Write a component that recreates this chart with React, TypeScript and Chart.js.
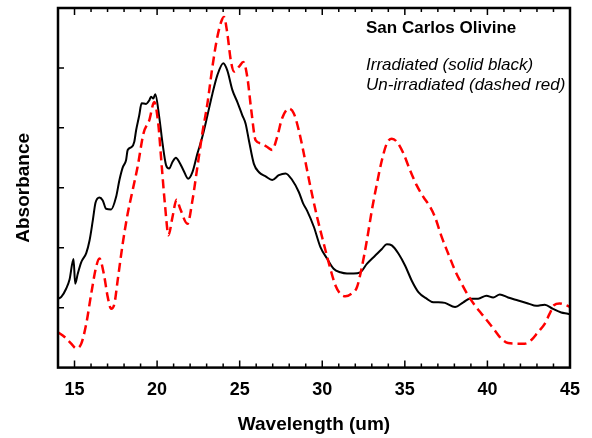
import React, { useEffect, useRef } from "react";
import { Chart, registerables } from "chart.js";

Chart.register(...registerables);

// Irradiated (solid black)
const irrX = [14.0,14.2,14.5,14.7,14.94,15.04,15.2,15.41,15.71,15.91,16.11,16.27,16.51,16.71,16.91,17.22,17.52,17.72,17.92,18.12,18.22,18.46,18.62,18.73,18.92,19.06,19.33,19.53,19.63,19.77,19.89,20.13,20.33,20.54,20.73,20.93,21.14,21.34,21.6,21.88,22.14,22.44,22.74,23.05,23.35,23.65,24.01,24.25,24.56,24.86,25.16,25.36,25.56,25.86,26.17,26.57,26.97,27.37,27.78,28.18,28.58,28.84,29.08,29.49,29.89,30.29,30.69,31.10,31.50,31.90,32.30,32.70,33.21,33.61,33.91,34.21,34.62,35.02,35.42,35.82,36.32,36.73,37.03,37.43,38.04,38.54,38.94,39.44,39.94,40.35,40.75,41.25,41.86,42.46,42.96,43.47,43.97,44.47,44.87,45.0];
const irrY = [1.15,1.18,1.32,1.47,1.81,1.40,1.57,1.76,1.91,2.12,2.46,2.75,2.84,2.79,2.65,2.64,2.85,3.13,3.34,3.46,3.63,3.68,3.77,3.96,4.21,4.41,4.40,4.46,4.52,4.49,4.56,4.18,3.74,3.38,3.32,3.43,3.50,3.43,3.29,3.15,3.26,3.57,3.85,4.21,4.57,4.88,5.08,4.96,4.63,4.43,4.21,4.07,3.79,3.40,3.26,3.19,3.13,3.21,3.24,3.13,2.93,2.74,2.62,2.35,2.01,1.82,1.65,1.59,1.57,1.57,1.59,1.73,1.87,1.98,2.06,2.04,1.90,1.70,1.45,1.26,1.15,1.09,1.09,1.08,1.01,1.09,1.15,1.15,1.20,1.17,1.22,1.17,1.12,1.07,1.03,1.05,0.98,0.92,0.90,0.89];

// Un-irradiated (dashed red)
const unX = [14.0,14.4,14.8,15.1,15.41,15.71,16.01,16.31,16.51,16.77,17.01,17.22,17.42,17.61,17.92,18.22,18.52,18.82,19.18,19.53,19.83,20.07,20.27,20.49,20.69,20.93,21.18,21.40,21.84,22.14,22.44,22.74,23.05,23.35,23.65,23.92,24.05,24.25,24.46,24.66,24.96,25.22,25.46,25.70,25.97,26.31,26.67,26.97,27.27,27.57,27.98,28.28,28.58,28.84,29.29,29.69,30.09,30.49,30.80,31.10,31.40,31.80,32.10,32.40,32.70,33.00,33.31,33.61,33.91,34.21,34.51,34.92,35.32,35.72,36.12,36.53,36.83,37.23,37.63,38.04,38.44,38.84,39.24,39.64,40.05,40.45,40.85,41.25,41.75,42.26,42.66,43.06,43.47,43.77,44.03,44.37,44.68,45.0];
const unY = [0.59,0.51,0.40,0.32,0.40,0.73,1.23,1.68,1.82,1.57,1.18,0.98,1.07,1.45,2.07,2.57,2.96,3.35,3.91,4.13,4.43,4.07,3.40,2.68,2.21,2.51,2.80,2.65,2.40,2.79,3.35,3.91,4.41,5.02,5.52,5.80,5.85,5.58,5.13,4.94,5.02,5.10,4.85,4.30,3.79,3.74,3.68,3.63,3.85,4.16,4.32,4.24,3.96,3.63,3.01,2.51,2.07,1.65,1.37,1.23,1.19,1.24,1.34,1.68,2.12,2.62,3.07,3.46,3.74,3.82,3.77,3.57,3.29,3.04,2.85,2.68,2.51,2.18,1.90,1.62,1.40,1.20,1.04,0.90,0.76,0.62,0.48,0.41,0.40,0.40,0.46,0.59,0.73,0.90,1.04,1.07,1.05,1.01];

const xMajorTicks = [15, 20, 25, 30, 35, 40, 45];
const xMinorTicks = [15,16,17,18,19,20,21,22,23,24,25,26,27,28,29,30,31,32,33,34,35,36,37,38,39,40,41,42,43,44,45];
const yTicks = [1, 2, 3, 4, 5];

const chartTitle = "San Carlos Olivine";
const legendLines = ["Irradiated (solid black)", "Un-irradiated (dashed red)"];
const xTitle = "Wavelength (um)";
const yTitle = "Absorbance";

const FONT = "'Liberation Sans', Arial, Helvetica, sans-serif";

const framePlugin = {
  id: "frameTicks",
  afterDraw(chart: any) {
    const { ctx, chartArea: a, scales } = chart;
    const xs = scales.x;
    const ys = scales.y;
    ctx.save();
    ctx.strokeStyle = "#000";
    ctx.lineWidth = 1.5;
    ctx.beginPath();
    for (const v of xMinorTicks) {
      const px = xs.getPixelForValue(v);
      const len = xMajorTicks.includes(v) ? 7 : 4;
      ctx.moveTo(px, a.bottom);
      ctx.lineTo(px, a.bottom - len);
      ctx.moveTo(px, a.top);
      ctx.lineTo(px, a.top + len);
    }
    for (const v of yTicks) {
      const py = ys.getPixelForValue(v);
      ctx.moveTo(a.left, py);
      ctx.lineTo(a.left + 6, py);
    }
    ctx.stroke();
    ctx.lineWidth = 2.5;
    ctx.strokeRect(a.left, a.top, a.right - a.left, a.bottom - a.top);

    ctx.fillStyle = "#000";
    ctx.textAlign = "left";
    ctx.textBaseline = "middle";
    ctx.font = `bold 17px ${FONT}`;
    ctx.fillText(chartTitle, 366, 28);
    ctx.font = `italic 17px ${FONT}`;
    ctx.fillText(legendLines[0], 366, 65);
    ctx.fillText(legendLines[1], 366, 85);
    ctx.restore();
  },
};

export default function App() {
  const ref = useRef<HTMLCanvasElement | null>(null);
  useEffect(() => {
    const canvas = ref.current;
    if (!canvas) return;
    const chart = new Chart(canvas, {
      type: "line",
      data: {
        datasets: [
          {
            label: "Irradiated",
            data: irrX.map((x, i) => ({ x, y: irrY[i] })),
            borderColor: "#000000",
            borderWidth: 2,
            pointRadius: 0,
            cubicInterpolationMode: "monotone",
            fill: false,
            order: 2,
          },
          {
            label: "Un-irradiated",
            data: unX.map((x, i) => ({ x, y: unY[i] })),
            borderColor: "#ff0000",
            borderWidth: 2.5,
            borderDash: [9, 5],
            pointRadius: 0,
            cubicInterpolationMode: "monotone",
            fill: false,
            order: 1,
          },
        ],
      },
      options: {
        animation: false,
        responsive: false,
        maintainAspectRatio: false,
        layout: { padding: { left: 0, right: 19, top: 8, bottom: 2 } },
        plugins: { legend: { display: false }, tooltip: { enabled: false }, title: { display: false } },
        scales: {
          x: {
            type: "linear",
            min: 14,
            max: 45,
            afterBuildTicks: (scale: any) => {
              scale.ticks = xMajorTicks.map((v) => ({ value: v }));
            },
            grid: { display: false, drawTicks: false },
            border: { display: false },
            ticks: {
              color: "#000",
              padding: 12,
              maxRotation: 0,
              autoSkip: false,
              font: { family: FONT, size: 18, weight: "bold" },
            },
            title: {
              display: true,
              text: xTitle,
              color: "#000",
              padding: { top: 0, bottom: 0 },
              font: { family: FONT, size: 19, weight: "bold" },
            },
          },
          y: {
            type: "linear",
            min: 0,
            max: 6,
            grid: { display: false, drawTicks: false },
            border: { display: false },
            ticks: { display: false },
            title: {
              display: true,
              text: yTitle,
              color: "#000",
              padding: { top: 12.6, bottom: 22.6 },
              font: { family: FONT, size: 19, weight: "bold" },
            },
          },
        },
      },
      plugins: [framePlugin],
    } as any);
    return () => chart.destroy();
  }, []);
  return (
    <div style={{ position: "absolute", left: 0, top: 0, width: 592, height: 438, background: "#fff" }}>
      <canvas ref={ref} width={592} height={438} style={{ display: "block", width: 592, height: 438 }} />
    </div>
  );
}
